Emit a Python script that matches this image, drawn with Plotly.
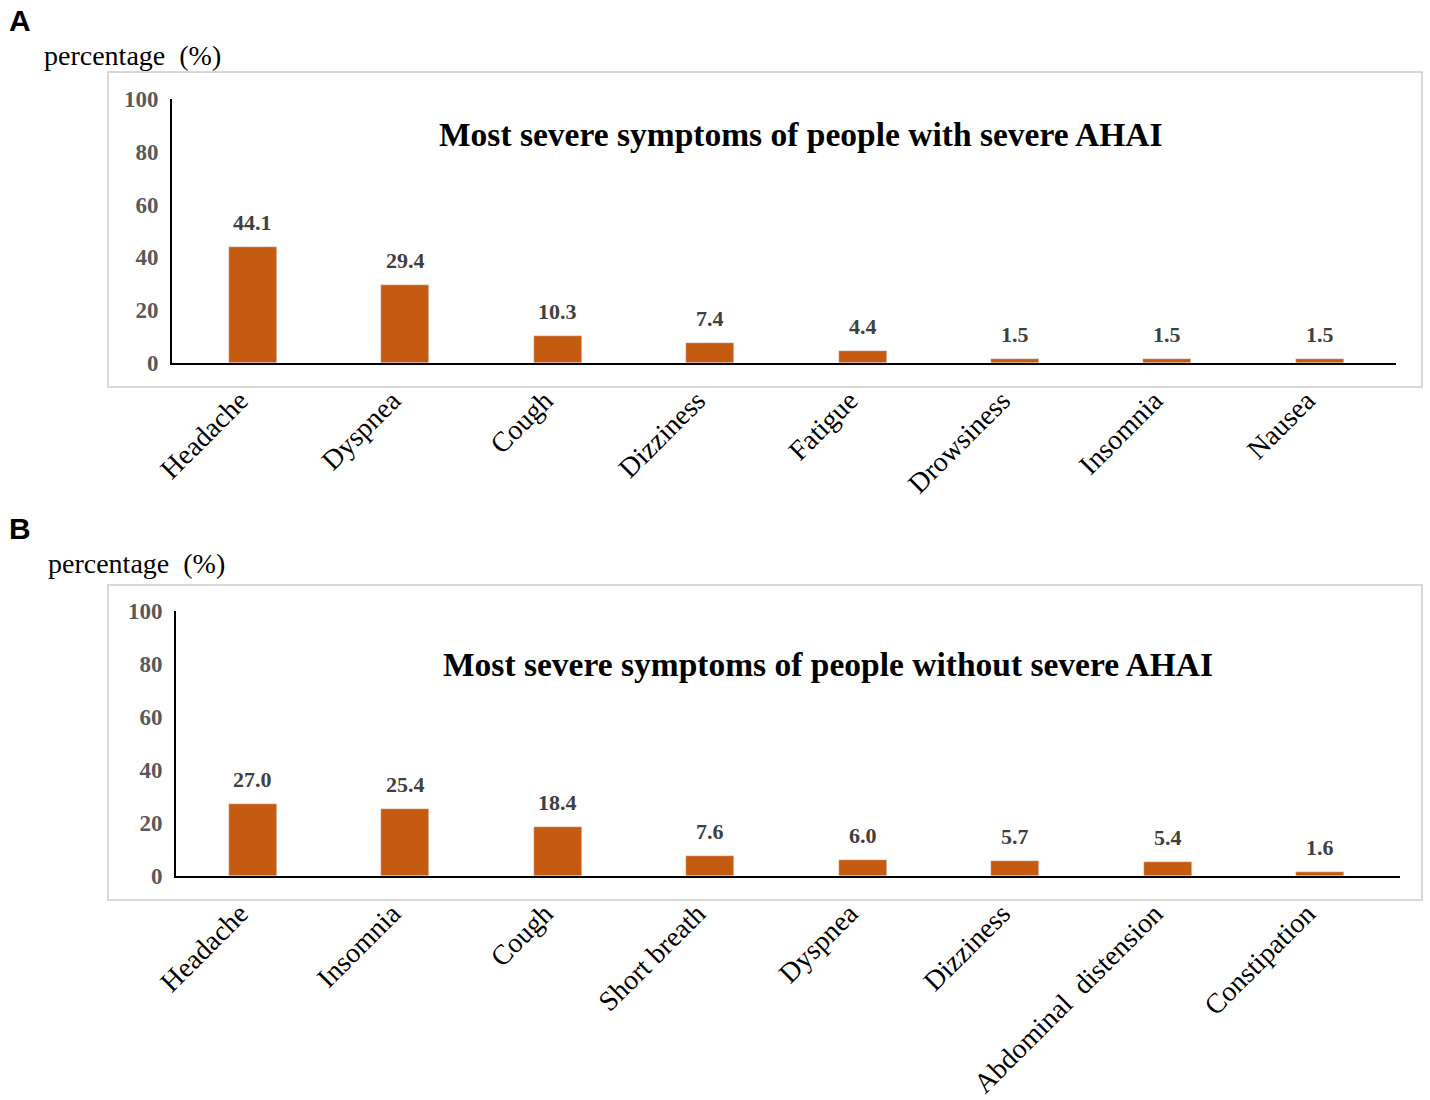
import plotly.graph_objects as go

# panel A: people with severe AHAI
symptoms_a = ["Headache", "Dyspnea", "Cough", "Dizziness", "Fatigue", "Drowsiness", "Insomnia", "Nausea"]
pct_a = [44.1, 29.4, 10.3, 7.4, 4.4, 1.5, 1.5, 1.5]

# panel B: people without severe AHAI
symptoms_b = ["Headache", "Insomnia", "Cough", "Short breath", "Dyspnea", "Dizziness",
              "Abdominal  distension", "Constipation"]
pct_b = [27.0, 25.4, 18.4, 7.6, 6.0, 5.7, 5.4, 1.6]

y_ticks = [0, 20, 40, 60, 80, 100]

W, H = 1430, 1100
BAR = "#C55A11"
SERIF = "Liberation Serif, Times New Roman, serif"


def px_x(p):
    return p / W


def px_y(p):
    return 1 - p / H


fig = go.Figure()
fig.add_trace(go.Bar(x=symptoms_a, y=pct_a, marker_color=BAR, width=0.315,
                     xaxis="x", yaxis="y", showlegend=False))
fig.add_trace(go.Bar(x=symptoms_b, y=pct_b, marker_color=BAR, width=0.315,
                     xaxis="x2", yaxis="y2", showlegend=False))

ann = []
for xs, ys, xr, yr in [(symptoms_a, pct_a, "x", "y"), (symptoms_b, pct_b, "x2", "y2")]:
    for s, v in zip(xs, ys):
        ann.append(dict(x=s, y=v, xref=xr, yref=yr, text=f"{v:.1f}", showarrow=False,
                        yanchor="bottom", yshift=10,
                        font=dict(family=SERIF, size=22, color="#404040", weight="bold")))

# panel letters, y-axis captions, chart titles
for letter, ytop in [("A", 20), ("B", 528)]:
    ann.append(dict(x=px_x(7), y=px_y(ytop), xref="paper", yref="paper", text=letter,
                    showarrow=False, xanchor="left", yanchor="middle",
                    font=dict(family="Liberation Sans, Arial", size=30, color="black", weight="bold")))
for xx, yy in [(42, 55), (46, 563)]:
    ann.append(dict(x=px_x(xx), y=px_y(yy), xref="paper", yref="paper",
                    text="percentage\u00a0 (%)", showarrow=False, xanchor="left", yanchor="middle",
                    font=dict(family=SERIF, size=28, color="black")))
for txt, xx, yy in [("Most severe symptoms of people with severe AHAI", 801, 135),
                    ("Most severe symptoms of people without severe AHAI", 828, 664)]:
    ann.append(dict(x=px_x(xx), y=px_y(yy), xref="paper", yref="paper", text=txt,
                    showarrow=False, xanchor="center", yanchor="middle",
                    font=dict(family=SERIF, size=33.5, color="black", weight="bold")))

# light grey frames around each chart
shapes = []
for top, bot in [(72, 387), (585, 900)]:
    shapes.append(dict(type="rect", xref="paper", yref="paper",
                       x0=px_x(108), x1=px_x(1422), y0=px_y(bot), y1=px_y(top),
                       line=dict(color="#D9D9D9", width=2), fillcolor="rgba(0,0,0,0)", layer="below"))

xaxis_common = dict(showgrid=False, showline=True, linecolor="black", linewidth=2,
                    ticks="", tickangle=-45, type="category",
                    ticklabelshift=-13, ticklabelstandoff=8, automargin=False,
                    tickfont=dict(family=SERIF, size=28, color="black"))
yaxis_common = dict(showgrid=False, showline=True, linecolor="black", linewidth=2,
                    ticks="", range=[0, 100], tickvals=y_ticks, zeroline=False,
                    ticklabelstandoff=7, automargin=False,
                    tickfont=dict(family=SERIF, size=23, color="#595959", weight="bold"))

fig.update_layout(
    width=W, height=H,
    margin=dict(l=0, r=0, t=0, b=0, autoexpand=False),
    paper_bgcolor="white", plot_bgcolor="white",
    bargap=0,
    xaxis=dict(xaxis_common, domain=[px_x(172), px_x(1396)], range=[-0.531, 7.5], anchor="y"),
    yaxis=dict(yaxis_common, domain=[px_y(363), px_y(99)], anchor="x"),
    xaxis2=dict(xaxis_common, domain=[px_x(176), px_x(1400)], range=[-0.505, 7.525], anchor="y2"),
    yaxis2=dict(yaxis_common, domain=[px_y(876), px_y(611)], anchor="x2"),
    annotations=ann,
    shapes=shapes,
)

# drop the default page margin so the figure sits at the window's top-left corner
fig.write_html("out.html", config={"displayModeBar": False},
               post_script="document.body.style.margin='0';document.body.style.overflow='hidden';")
